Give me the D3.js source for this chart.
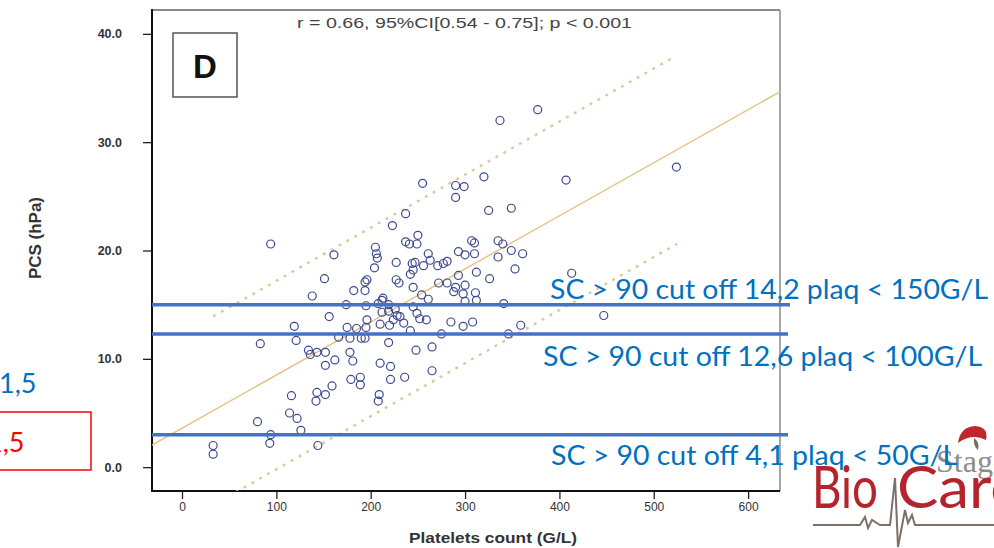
<!DOCTYPE html>
<html><head><meta charset="utf-8">
<script src="https://cdn.jsdelivr.net/npm/d3@7/dist/d3.min.js"></script>
<style>html,body{margin:0;padding:0;background:#fff;overflow:hidden}</style>
</head><body><svg id="c" width="994" height="548"></svg>
<script>
// ---- data ----
const plateletsGL = [
  94,337,377,255,290,299,290,320,325,237,
  223,161,151,205,206,207,204,227,237,241,
  250,249,261,244,247,256,271,277,281,245,
  242,263,293,300,310,307,310,335,293,312,
  326,196,194,227,230,245,272,281,182,290,
  300,138,194,213,212,254,261,288,298,311,
  312,300,174,195,208,219,212,219,226,228,
  231,224,245,249,252,259,156,119,121,83,
  175,185,195,196,210,220,235,242,166,178,
  190,194,219,285,298,308,275,248,265,134,
  136,143,152,162,178,181,152,210,221,265,
  236,221,179,189,189,159,116,143,152,142,
  209,208,114,122,80,126,94,93,33,33,
  144,407,524,349,349,361,353,413,341,447,
  359,346,335,340
];
const pcsHPa = [
  20.6,32.0,33.0,26.2,26.0,25.9,24.9,26.8,23.7,23.4,
  22.3,19.6,17.4,20.3,19.7,19.3,18.4,18.9,20.8,20.6,
  21.4,20.6,19.7,18.8,18.9,18.6,18.6,18.8,19.0,18.2,
  17.8,19.1,19.9,19.6,19.7,20.9,20.7,19.4,17.7,18.0,
  17.4,17.3,17.1,17.3,17.0,16.6,17.0,17.0,16.3,16.6,
  16.8,15.8,16.3,15.6,15.4,15.9,15.5,16.2,16.0,16.1,
  15.4,15.3,15.0,14.9,15.1,15.0,14.3,14.4,14.6,14.0,
  13.9,13.6,14.8,14.2,13.7,13.6,13.9,13.0,11.7,11.4,
  12.9,12.8,12.9,13.6,13.2,13.1,13.3,12.6,12.0,11.9,
  11.9,11.9,11.5,13.4,13.0,13.4,12.3,10.8,11.1,10.8,
  10.4,10.6,10.6,9.9,10.6,9.8,9.4,9.6,9.3,8.9,
  8.3,8.1,8.1,8.3,7.6,7.5,6.6,6.9,6.7,6.1,
  6.7,6.1,5.0,4.5,4.2,3.4,3.0,2.2,2.0,1.2,
  2.0,26.5,27.7,23.9,20.0,19.7,18.3,17.9,15.1,14.0,
  13.1,12.3,20.9,20.6
];
const xTickValues = [0,100,200,300,400,500,600];
const yTickValues = [0,10,20,30,40];
const regIntercept = 3.6;
const regSlope = 0.049;
const bandHalf = 8.7;
const upperBandX = [33, 520];
const lowerBandX = [57, 525];
const cutoffLevels = [15.0, 12.3, 3.0];
const cutoffLabels = [
  "SC > 90 cut off 14,2 plaq < 150G/L",
  "SC > 90 cut off 12,6 plaq < 100G/L",
  "SC > 90 cut off 4,1 plaq < 50G/L"
];
const statsText = "r = 0.66, 95%CI[0.54 - 0.75]; p < 0.001";
const panelLetter = "D";
const xTitle = "Platelets count (G/L)";
const yTitle = "PCS (hPa)";

// ---- drawing ----
const svg = d3.select("#c");
const L = 152, R = 780, T = 10, B = 491;
const x = d3.scaleLinear().domain([-31.8, 633.8]).range([L, R]);
const y = d3.scaleLinear().domain([-2.2, 42.2]).range([B, T]);
const data = plateletsGL.map((v,i)=>({x:v, y:pcsHPa[i]}));

svg.append("defs").append("clipPath").attr("id","clip")
  .append("rect").attr("x",L).attr("y",T).attr("width",R-L).attr("height",B-T);

// frame
svg.append("line").attr("x1",L).attr("x2",R).attr("y1",T).attr("y2",T).attr("stroke","#8a8a8a").attr("stroke-width",1.8);
svg.append("line").attr("x1",R).attr("x2",R).attr("y1",T).attr("y2",B).attr("stroke","#8a8a8a").attr("stroke-width",1.5);

// axes
const yAxis = svg.append("g").attr("transform",`translate(${L},0)`)
  .call(d3.axisLeft(y).tickValues(yTickValues).tickFormat(d3.format(".1f")).tickSize(9).tickPadding(21));
yAxis.select(".domain").remove();
yAxis.selectAll("line").attr("stroke","#222").attr("stroke-width",1.3);
yAxis.selectAll("text").attr("font-family","Liberation Sans, Arial, sans-serif").attr("font-size",12.5)
  .attr("font-weight","bold").attr("fill","#333");

const xAxis = svg.append("g").attr("transform",`translate(0,${B})`)
  .call(d3.axisBottom(x).tickValues(xTickValues).tickFormat(d3.format("d")).tickSize(8).tickPadding(3));
xAxis.select(".domain").remove();
xAxis.selectAll("line").attr("stroke","#222").attr("stroke-width",1.3);
xAxis.selectAll("text").attr("font-family","Liberation Sans, Arial, sans-serif").attr("font-size",12)
  .attr("fill","#333");

svg.append("line").attr("x1",L).attr("x2",L).attr("y1",T-1).attr("y2",B+1).attr("stroke","#111").attr("stroke-width",2);
svg.append("line").attr("x1",L).attr("x2",R).attr("y1",B).attr("y2",B).attr("stroke","#111").attr("stroke-width",2);

// regression + prediction band
const plot = svg.append("g").attr("clip-path","url(#clip)");
const line = d3.line().x(d=>x(d[0])).y(d=>y(d[1]));
const reg = v => regIntercept + regSlope*v;
const dom = x.domain();
plot.append("path").attr("d", line([[dom[0], reg(dom[0])],[dom[1], reg(dom[1])]]))
  .attr("stroke","#e4c27f").attr("stroke-width",1.4).attr("fill","none");
plot.append("path").attr("d", line(upperBandX.map(v=>[v, reg(v)+bandHalf])))
  .attr("stroke","#d9cba0").attr("stroke-width",2.4).attr("stroke-dasharray","3,6").attr("fill","none");
plot.append("path").attr("d", line(lowerBandX.map(v=>[v, reg(v)-bandHalf])))
  .attr("stroke","#d9cba0").attr("stroke-width",2.4).attr("stroke-dasharray","3,6").attr("fill","none");

// points
plot.selectAll("circle.pt").data(data).join("circle").attr("class","pt")
  .attr("cx",d=>x(d.x)).attr("cy",d=>y(d.y)).attr("r",4)
  .attr("fill","none").attr("stroke","#3d4a8e").attr("stroke-width",1.2);

// stats text & panel letter
svg.append("text").attr("x",297).attr("y",28).attr("font-family","Liberation Sans, Arial, sans-serif")
  .attr("font-size",15).attr("fill","#444").attr("textLength",335).attr("lengthAdjust","spacingAndGlyphs").text(statsText);
svg.append("rect").attr("x",173).attr("y",33).attr("width",64).attr("height",64)
  .attr("fill","none").attr("stroke","#555").attr("stroke-width",1.5);
svg.append("text").attr("x",205).attr("y",78).attr("text-anchor","middle").attr("font-family","Liberation Sans, Arial, sans-serif")
  .attr("font-size",33).attr("font-weight","bold").attr("fill","#111").text(panelLetter);

// axis titles
svg.append("text").attr("x",493).attr("y",543).attr("text-anchor","middle").attr("font-family","Liberation Sans, Arial, sans-serif")
  .attr("font-size",15.5).attr("font-weight","bold").attr("fill","#333")
  .attr("textLength",168).attr("lengthAdjust","spacingAndGlyphs").text(xTitle);
svg.append("text").attr("transform","translate(41,238) rotate(-90)").attr("text-anchor","middle")
  .attr("font-family","Liberation Sans, Arial, sans-serif").attr("font-size",16.5).attr("font-weight","bold")
  .attr("fill","#333").attr("textLength",82).attr("lengthAdjust","spacingAndGlyphs").text(yTitle);

// logo (decorative)
const logo = svg.append("g");
logo.append("text").attr("x",936).attr("y",472).attr("font-family","Liberation Serif, DejaVu Serif, serif")
  .attr("font-size",32).attr("fill","#8c8c8c").text("Stago");
logo.append("path").attr("d","M958,443 Q960,427 975,426 Q989,427 986,440 Q972,433 958,443 Z").attr("fill","#c0272d");
logo.append("path").attr("d","M974,438 Q980,442 978,450 Q973,446 974,438 Z").attr("fill","#7a6a60");
logo.append("text").attr("x",812).attr("y",508).attr("font-family","Lato, sans-serif").attr("font-size",58)
  .attr("fill","#b5232d").attr("textLength",66).attr("lengthAdjust","spacingAndGlyphs").text("Bio");
logo.append("text").attr("x",897).attr("y",508).attr("font-family","Lato, sans-serif").attr("font-size",58)
  .attr("fill","#b5232d").attr("textLength",126).attr("lengthAdjust","spacingAndGlyphs").text("Care");
logo.append("path").attr("d","M813,525 L860,525 L865,517 L868,528 L872,520 L880,525 L890,525 L895,478 L898,547 L905,510 L908,523 L912,515 L915,525 L994,525")
  .attr("fill","none").attr("stroke","#7d7068").attr("stroke-width",2);

// cutoff lines and labels
svg.selectAll("line.cut").data(cutoffLevels).join("line").attr("class","cut")
  .attr("x1",L).attr("x2",(d,i)=> i===0 ? R+10 : R+8)
  .attr("y1",d=>y(d)).attr("y2",d=>y(d)).attr("stroke","#4472c4").attr("stroke-width",3.5);
const labelPos = [[550,299,438],[543,366,439],[551,465,406]];
svg.selectAll("text.cut").data(cutoffLabels).join("text").attr("class","cut")
  .attr("x",(d,i)=>labelPos[i][0]).attr("y",(d,i)=>labelPos[i][1])
  .attr("font-family","Lato, Carlito, sans-serif").attr("font-size",27).attr("fill","#0070c0")
  .attr("textLength",(d,i)=>labelPos[i][2]).attr("lengthAdjust","spacingAndGlyphs").text(d=>d);

// left side cropped annotations
svg.append("text").attr("x",-1).attr("y",393).attr("font-family","Lato, Carlito, sans-serif").attr("font-size",27)
  .attr("fill","#0070c0").text("1,5");
svg.append("rect").attr("x",-5).attr("y",412).attr("width",96).attr("height",58)
  .attr("fill","none").attr("stroke","#ff0000").attr("stroke-width",1.5);
svg.append("text").attr("x",-13).attr("y",452).attr("font-family","Lato, Carlito, sans-serif").attr("font-size",27)
  .attr("fill","#ff0000").text("1,5");
</script></body></html>
